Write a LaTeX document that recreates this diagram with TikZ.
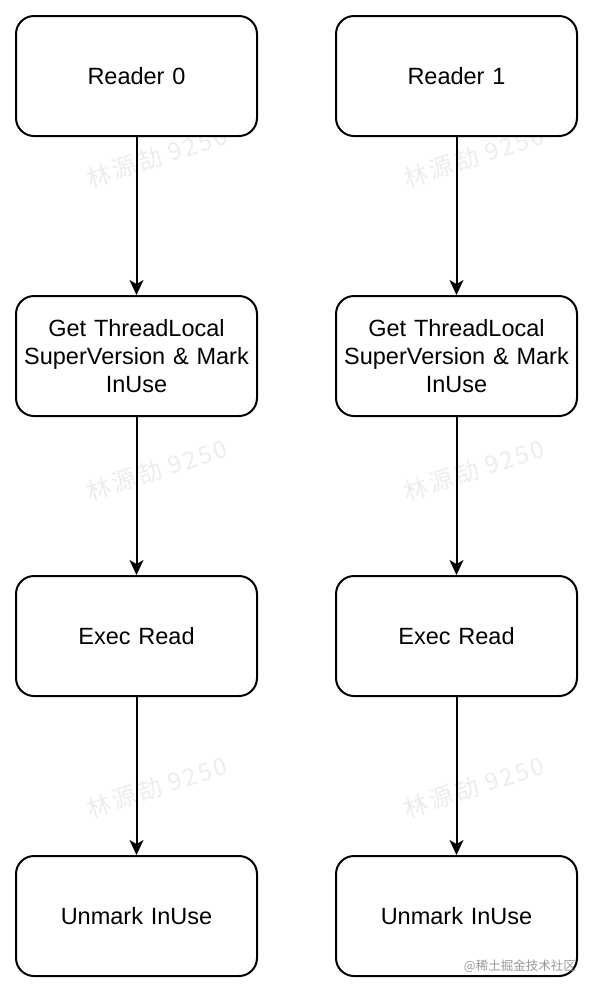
\documentclass[tikz,border=0pt]{standalone}
\usepackage{fontspec}
\setmainfont{Liberation Sans}
\newfontfamily\cjkfont{Noto Sans CJK SC}
\newfontfamily\wmfont[LetterSpace=10]{Noto Sans CJK SC}
\usetikzlibrary{arrows.meta}
\begin{document}
\begin{tikzpicture}[x=1pt,y=-1pt,
  stepbox/.style={draw=black, line width=2pt, rounded corners=18pt, fill=white,
    minimum width=241pt, minimum height=120pt, align=center, text width=236pt,
    font=\fontsize{23.5pt}{28pt}\selectfont, inner sep=0pt},
  flow/.style={draw=black, line width=2pt, -{Stealth[length=15pt,width=14pt,inset=4pt]}},
  wmark/.style={text=black!7, rotate=18, font=\wmfont\fontsize{24pt}{26pt}\selectfont, inner sep=0pt}]
\useasboundingbox[fill=white] (0,0) rectangle (594,994);
% watermarks
\foreach \cx/\nm in {157/l,474/r}{
  \foreach \cy/\k in {157/a,470/b,787/c}{
    \node[wmark] (wm\nm\k) at (\cx,\cy) {林源劼 9250};
  }
}
% left column
\node[stepbox] (r0) at (136.5,76) {Reader 0};
\node[stepbox] (g0) at (136.5,356) {Get ThreadLocal\\SuperVersion \& Mark\\InUse};
\node[stepbox] (e0) at (136.5,636) {Exec Read};
\node[stepbox] (u0) at (136.5,916) {Unmark InUse};
% right column
\node[stepbox] (r1) at (456.5,76) {Reader 1};
\node[stepbox] (g1) at (456.5,356) {Get ThreadLocal\\SuperVersion \& Mark\\InUse};
\node[stepbox] (e1) at (456.5,636) {Exec Read};
\node[stepbox] (u1) at (456.5,916) {Unmark InUse};
% connectors
\draw[flow] (r0) -- (g0);
\draw[flow] (g0) -- (e0);
\draw[flow] (e0) -- (u0);
\draw[flow] (r1) -- (g1);
\draw[flow] (g1) -- (e1);
\draw[flow] (e1) -- (u1);
% site mark
\node[text=black!40, font=\cjkfont\fontsize{12.5pt}{14pt}\selectfont, anchor=east, inner sep=0pt] (site) at (576,966) {@稀土掘金技术社区};
\end{tikzpicture}
\end{document}
